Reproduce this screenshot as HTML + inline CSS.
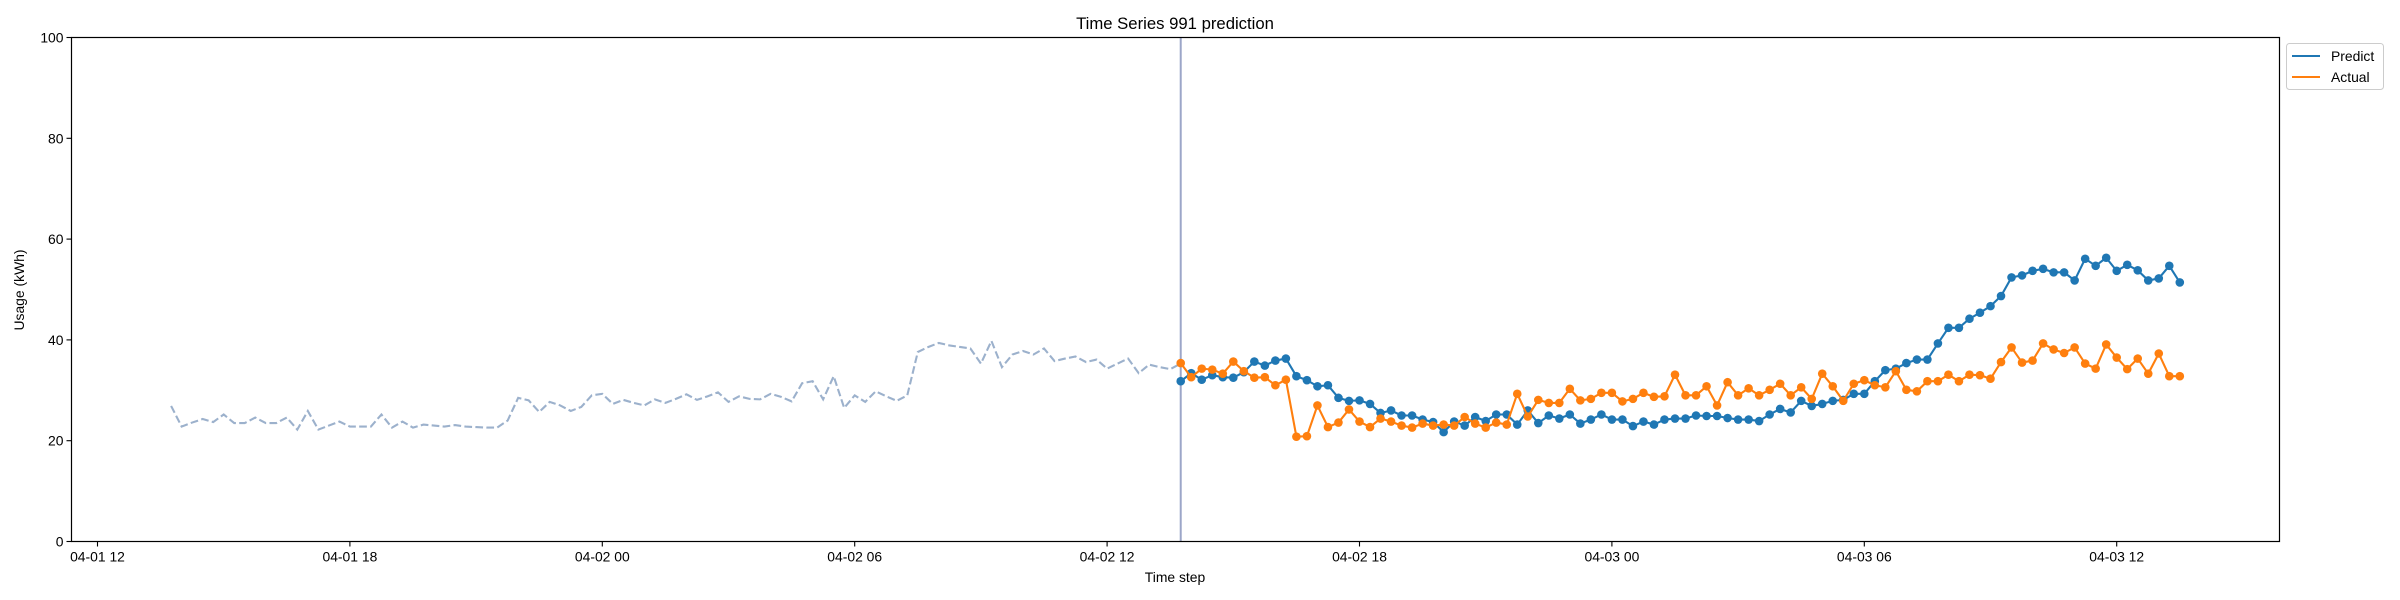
<!DOCTYPE html>
<html><head><meta charset="utf-8"><style>
html,body{margin:0;padding:0;background:#fff;}
svg{display:block;font-family:"Liberation Sans","DejaVu Sans",sans-serif;}
</style></head><body>
<svg id="chart" width="2400" height="600" viewBox="0 0 2400 600" xmlns="http://www.w3.org/2000/svg">
<rect width="2400" height="600" fill="#fff"/>
<text x="1175" y="29" text-anchor="middle" font-size="16.7" fill="#000">Time Series 991 prediction</text>
<g id="plot"></g>
<g id="xaxis"></g>
<g id="yaxis"></g>
<text x="1175" y="582" text-anchor="middle" font-size="13.9" fill="#000">Time step</text>
<text transform="translate(24,290) rotate(-90)" text-anchor="middle" font-size="13.9" fill="#000">Usage (kWh)</text>
<g>
<rect x="2286.5" y="43.5" width="97" height="46" rx="3" fill="#fff" stroke="#ccc" stroke-width="1"/>
<line x1="2292" y1="56" x2="2320" y2="56" stroke="#1f77b4" stroke-width="2.1"/>
<text x="2331" y="61" font-size="13.9" fill="#000">Predict</text>
<line x1="2292" y1="77" x2="2320" y2="77" stroke="#ff7f0e" stroke-width="2.1"/>
<text x="2331" y="82" font-size="13.9" fill="#000">Actual</text>
</g>
</svg>
<script>
const history = [26.9,22.8,23.6,24.3,23.7,25.2,23.5,23.5,24.6,23.5,23.5,24.6,22.2,25.9,22.2,23.0,23.8,22.8,22.8,22.8,25.2,22.6,23.8,22.6,23.2,23.0,22.8,23.1,22.8,22.7,22.6,22.6,24.0,28.5,28.0,25.7,27.7,27.0,25.9,26.7,29.0,29.3,27.3,28.1,27.5,27.0,28.2,27.5,28.3,
29.2,28.1,28.8,29.6,27.7,28.8,28.3,28.2,29.3,28.7,27.8,31.4,31.8,28.2,32.8,26.5,29.0,27.7,29.8,28.8,27.9,29.0,37.6,38.6,39.4,38.9,38.6,38.3,35.3,39.8,34.6,37.1,37.8,37.1,38.3,35.8,36.3,36.7,35.6,36.1,34.3,35.3,36.3,33.4,35.1,34.6,34.2,35.3];
const predict = [31.8,33.4,32.1,33.0,32.6,32.5,33.6,35.7,34.9,35.9,36.3,32.8,32.0,30.8,31.0,28.5,27.9,28.0,27.3,25.5,26.0,25.0,25.0,24.2,23.7,21.7,23.8,23.0,24.7,23.9,25.2,25.2,23.2,26.0,23.5,25.0,24.4,25.2,23.4,24.2,25.2,24.2,24.2,22.9,23.8,23.2,24.2,
24.4,24.4,25.0,24.9,24.9,24.5,24.2,24.2,23.9,25.2,26.3,25.6,27.9,26.9,27.3,27.9,28.1,29.3,29.3,31.8,34.0,34.3,35.4,36.1,36.1,39.3,42.4,42.4,44.2,45.4,46.7,48.7,52.4,52.8,53.7,54.1,53.4,53.4,51.8,56.1,54.7,56.3,53.7,54.9,53.8,51.8,52.2,54.7,51.4];
const actual = [35.4,32.6,34.3,34.1,33.3,35.7,33.8,32.5,32.6,31.0,32.1,20.8,20.9,27.0,22.7,23.6,26.2,23.8,22.7,24.4,23.8,23.0,22.6,23.4,23.0,23.2,23.0,24.7,23.4,22.6,23.6,23.2,29.3,24.8,28.1,27.5,27.5,30.3,28.0,28.3,29.5,29.5,27.8,28.3,29.5,28.7,28.8,
33.1,29.0,29.0,30.8,27.0,31.6,29.0,30.4,29.0,30.1,31.3,29.0,30.6,28.3,33.3,30.8,27.9,31.3,32.0,31.0,30.6,33.8,30.1,29.8,31.8,31.8,33.1,31.8,33.1,33.0,32.3,35.6,38.5,35.5,35.9,39.3,38.1,37.4,38.5,35.3,34.3,39.1,36.5,34.2,36.3,33.3,37.3,32.8,32.8];
const historyStartHour = 1.75;   // hours after 04-01 12:00
const forecastStartHour = 25.75;
const stepHours = 0.25;
const xTickHours = [0,6,12,18,24,30,36,42,48];
const xTickLabels = ["04-01 12","04-01 18","04-02 00","04-02 06","04-02 12","04-02 18","04-03 00","04-03 06","04-03 12"];
const yTicks = [0,20,40,60,80,100];

const L=71.5,R=2279.5,T=37.5,B=541.5;
const xMin=-0.618,xMax=51.87,yMin=0,yMax=100;
const sx=h=>L+(h-xMin)/(xMax-xMin)*(R-L);
const sy=v=>B-(v-yMin)/(yMax-yMin)*(B-T);
const NS="http://www.w3.org/2000/svg";
function mk(tag,attrs,parent){const e=document.createElementNS(NS,tag);for(const k in attrs)e.setAttribute(k,attrs[k]);parent.appendChild(e);return e;}
const plot=document.getElementById('plot'),xa=document.getElementById('xaxis'),ya=document.getElementById('yaxis');

function pts(arr,start){return arr.map((v,i)=>sx(start+i*stepHours).toFixed(2)+','+sy(v).toFixed(2)).join(' ');}

const hl=mk('polyline',{points:pts(history,historyStartHour),fill:'none',stroke:'#9cb1cc','stroke-width':2.1,'stroke-dasharray':'7.7 3.3'},plot);



const vx=sx(forecastStartHour);
const vl=mk('line',{x1:vx,y1:T,x2:vx,y2:B,stroke:'#9ca6c8','stroke-width':2},plot);



function series(arr,color,name){
  const g=mk('g',{},plot);
  
  
  const pl=mk('polyline',{points:pts(arr,forecastStartHour),fill:'none',stroke:color,'stroke-width':2.1,'stroke-linejoin':'round'},g);
  
  
  arr.forEach((v,i)=>{
    const c=mk('circle',{cx:sx(forecastStartHour+i*stepHours),cy:sy(v),r:4.3,fill:color},g);
    
    
  });
}
series(predict,'#1f77b4','predict');
series(actual,'#ff7f0e','actual');

const fr=mk('rect',{x:L,y:T,width:R-L,height:B-T,fill:'none',stroke:'#000','stroke-width':1.2},plot);



xTickHours.forEach((h,i)=>{
  const x=sx(h);
  const t=mk('line',{x1:x,y1:B,x2:x,y2:B+5,stroke:'#000','stroke-width':1.1},xa);
  
  
  const tx=mk('text',{x:x,y:B+20,'text-anchor':'middle','font-size':13.9,fill:'#000'},xa);
  tx.textContent=xTickLabels[i];
  
  
});
yTicks.forEach(v=>{
  const y=sy(v);
  const t=mk('line',{x1:L-5,y1:y,x2:L,y2:y,stroke:'#000','stroke-width':1.1},ya);
  
  
  const tx=mk('text',{x:L-8,y:y+5,'text-anchor':'end','font-size':13.9,fill:'#000'},ya);
  tx.textContent=String(v);
  
  
});
</script>
</body></html>
